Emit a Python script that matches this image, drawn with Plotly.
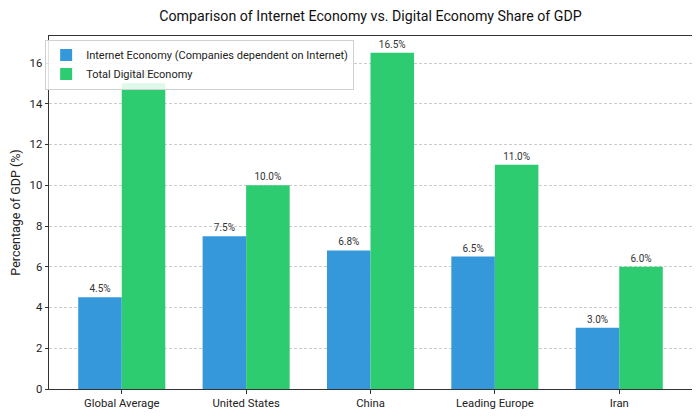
import plotly.graph_objects as go

categories = ["Global Average", "United States", "China", "Leading Europe", "Iran"]
internet_economy = [4.5, 7.5, 6.8, 6.5, 3.0]
digital_economy = [15.0, 10.0, 16.5, 11.0, 6.0]

FONT = "Roboto, 'Noto Sans', sans-serif"

# page body has an 8px margin, so the figure is sized to fit the 700x417 window
W, H = 692, 409

fig = go.Figure()
fig.add_trace(go.Bar(
    x=categories, y=internet_economy,
    name="Internet Economy (Companies dependent on Internet)",
    marker=dict(color="#3498db", line=dict(width=0)),
    texttemplate="%{y:.1f}%", textposition="outside",
    textfont=dict(size=10, color="#333333"), cliponaxis=False,
))
fig.add_trace(go.Bar(
    x=categories, y=digital_economy,
    name="Total Digital Economy",
    marker=dict(color="#2ecc71", line=dict(width=0)),
    texttemplate="%{y:.1f}%", textposition="outside",
    textfont=dict(size=10, color="#333333"), cliponaxis=False,
))

fig.update_layout(
    width=W, height=H,
    paper_bgcolor="white", plot_bgcolor="white",
    font=dict(family=FONT, size=11, color="#222222"),
    title=dict(text="Comparison of Internet Economy vs. Digital Economy Share of GDP",
               xref="paper", x=0.5, xanchor="center",
               yref="container", y=1 - 8 / H, yanchor="middle",
               font=dict(size=14.2, color="#111111")),
    barmode="group", bargap=0.3, bargroupgap=0,
    margin=dict(l=33, r=7, t=28, b=25),
    showlegend=True,
    legend=dict(x=-0.006, y=0.99, xanchor="left", yanchor="top",
                bgcolor="rgba(255,255,255,0.85)", bordercolor="#d0d0d0", borderwidth=1,
                font=dict(size=11), tracegroupgap=0, itemwidth=30),
    uniformtext=dict(minsize=8, mode="show"),
)
fig.update_xaxes(
    range=[-0.585, 4.585], showline=True, mirror=True, linecolor="#333333", linewidth=1,
    ticks="outside", ticklen=3.5, tickcolor="#333333", tickfont=dict(size=11.3),
    showgrid=False,
)
fig.update_yaxes(
    range=[0, 17.325], dtick=2, showline=True, mirror=True, linecolor="#333333", linewidth=1,
    ticks="outside", ticklen=3.5, tickcolor="#333333", tickfont=dict(size=11.3),
    showgrid=True, gridcolor="#cccccc", griddash="3px,2px", gridwidth=1,
    zeroline=False,
    title=dict(text="Percentage of GDP (%)", font=dict(size=12.5), standoff=6),
)

fig.write_html("out.html")
